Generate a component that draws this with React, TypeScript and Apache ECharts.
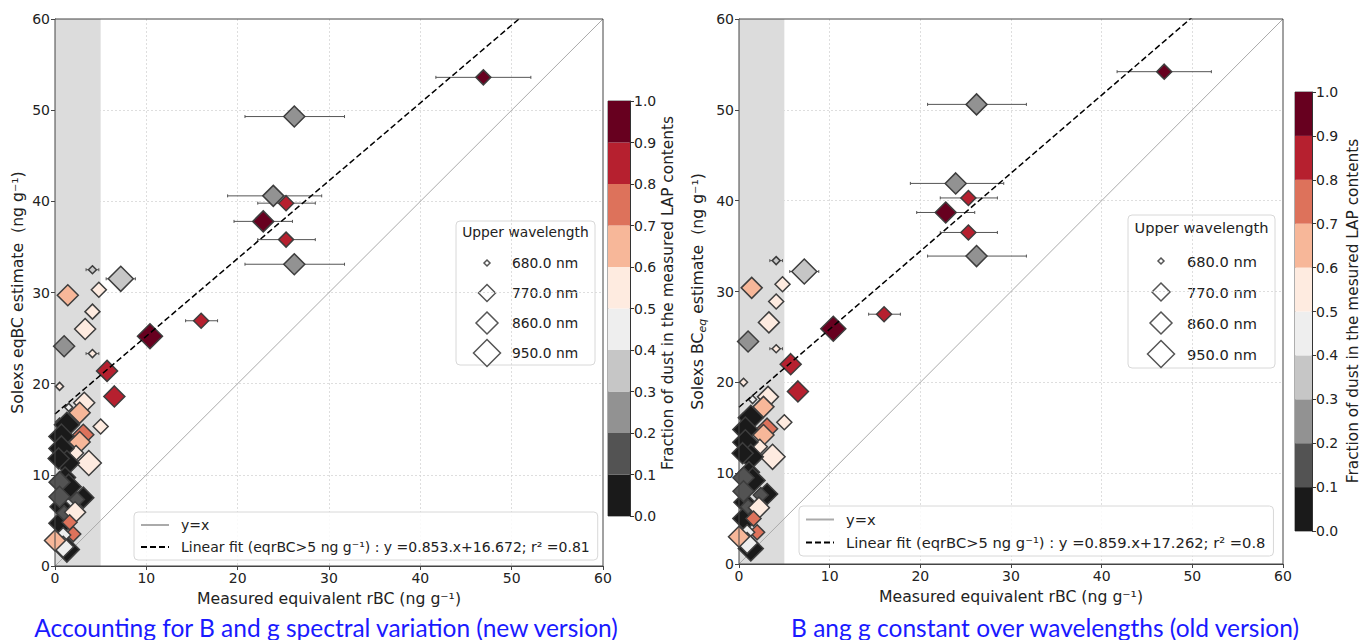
import React, { useEffect, useRef } from "react";
import * as echarts from "echarts";

// ---------------- DATA ----------------
const measuredX = [26.2, 23.9, 25.3, 22.8, 25.3, 26.2, 46.9, 4.1, 7.2, 4.8, 1.4, 4.1, 3.3, 1.0, 4.1, 16.0, 10.4, 5.7, 6.5, 0.5, 3.2, 2.7, 1.5, 5.0, 3.1, 2.7, 2.3, 3.7, 0.5,
  1.3, 0.7, 0.7, 1.3, 1.1, 1.5, 3.1, 0.6, 0.7, 1.3, 0.4,
  0.5, 0.5, 2.4, 1.0,
  2.2, 1.6, 2.0, 0.9, 0.9, 0.0];
const errLow: (number | null)[] = [20.8, 18.9, 22.2, 19.6, 22.2, 20.8, 41.7, 3.4, 5.6, null, null, null, null, null, 3.4, 14.3, null, null, null, null, null, null, null, null, null, null, null, null, null,
  null, null, null, null, null, null, null, null, null, null, null,
  null, null, null, null,
  null, null, null, null, null, null];
const errHigh: (number | null)[] = [31.7, 29.2, 28.5, 26.0, 28.5, 31.7, 52.1, 4.8, 8.8, null, null, null, null, null, 4.8, 17.8, null, null, null, null, null, null, null, null, null, null, null, null, null,
  null, null, null, null, null, null, null, null, null, null, null,
  null, null, null, null,
  null, null, null, null, null, null];
const dustFraction = [0.25, 0.25, 0.85, 0.95, 0.85, 0.25, 0.95, 0.35, 0.35, 0.55, 0.65, 0.55, 0.55, 0.25, 0.55, 0.85, 0.95, 0.85, 0.85, 0.55, 0.55, 0.65, 0.45, 0.55, 0.75, 0.65, 0.55, 0.55, 0.35,
  0.05, 0.05, 0.05, 0.05, 0.05, 0.05, 0.05, 0.05, 0.05, 0.05, 0.05,
  0.15, 0.15, 0.15, 0.15,
  0.55, 0.75, 0.75, 0.45, 0.45, 0.65];
const upperWavelength = [860, 860, 770, 860, 770, 860, 770, 680, 950, 770, 860, 770, 860, 860, 680, 770, 950, 860, 860, 680, 860, 860, 680, 770, 860, 860, 770, 950, 680,
  950, 950, 950, 950, 860, 950, 860, 860, 950, 950, 860,
  860, 860, 770, 770,
  860, 770, 770, 770, 860, 860];
const estimateNew = [49.3, 40.6, 39.8, 37.8, 35.8, 33.1, 53.6, 32.5, 31.5, 30.3, 29.7, 27.9, 26.0, 24.1, 23.3, 26.9, 25.2, 21.4, 18.6, 19.7, 17.9, 16.8, 17.4, 15.3, 14.4, 13.6, 12.4, 11.3, 15.8,
  15.5, 14.2, 12.9, 11.3, 9.7, 8.7, 7.5, 6.5, 4.7, 1.8, 11.8,
  9.2, 7.6, 7.3, 5.8,
  5.9, 4.8, 3.5, 3.4, 2.1, 2.8];
const estimateOld = [50.6, 41.9, 40.3, 38.7, 36.5, 33.9, 54.2, 33.4, 32.2, 30.8, 30.4, 28.9, 26.6, 24.5, 23.7, 27.5, 25.9, 22.0, 19.0, 20.0, 18.4, 17.3, 18.1, 15.6, 14.9, 14.2, 12.9, 11.8, 16.2,
  16.1, 14.8, 13.4, 11.8, 10.1, 9.2, 7.7, 6.8, 5.0, 1.7, 12.2,
  9.5, 8.0, 7.6, 6.3,
  6.2, 5.0, 3.5, 3.5, 2.3, 3.0];

const fitCoefNew = [0.853, 16.672];
const fitCoefOld = [0.859, 17.262];
const fitNameNew = "Linear fit (eqrBC>5 ng g⁻¹) : y =0.853.x+16.672; r² =0.81";
const fitNameOld = "Linear fit (eqrBC>5 ng g⁻¹) : y =0.859.x+17.262; r² =0.8";
const axisRange = [0, 60];
const axisStep = 10;
const shadeRange = [0, 5];
const binEdges = [0, 0.1, 0.2, 0.3, 0.4, 0.5, 0.6, 0.7, 0.8, 0.9, 1.0];
const binColors = ["#1a1a1a", "#535353", "#929292", "#c6c6c6", "#eeeeee", "#feebe0", "#f7b799", "#dd725b", "#b6202f", "#67001f"];
const wavelengthLevels = [680, 770, 860, 950];
const wavelengthLabels = ["680.0 nm", "770.0 nm", "860.0 nm", "950.0 nm"];

// ---------------- STYLE ----------------
const FONT = "DejaVu Sans";
const TXT = "#222";
const plotSize: Record<number, number> = { 680: 8, 770: 15, 860: 21, 950: 25 };

const panels = [
  {
    grid: { left: 55, top: 19, width: 548, height: 547 },
    cbar: { left: 608, top: 101, width: 22, height: 415 },
    cbarLabel: { x: 668, y: 293, text: "Fraction of dust in the measured LAP contents" },
    yName: "Solexs eqBC estimate  (ng g⁻¹)",
    yNameGap: 30,
    est: estimateNew, fit: fitCoefNew, fitName: fitNameNew,
    legend: { left: 134, top: 512 },
    wl: { x: 456, y: 221, w: 139, h: 144, titleY: 232, rows: [263, 293, 323, 353], cx: 487, tx: 512, fs: 13.8, sizes: [6, 17, 22, 27] },
    caption: { x: 326, y: 627, text: "Accounting for B and g spectral variation (new version)" },
    fs: 14.0,
  },
  {
    grid: { left: 739, top: 19, width: 544, height: 545 },
    cbar: { left: 1295, top: 92, width: 17, height: 439 },
    cbarLabel: { x: 1353, y: 311, text: "Fraction of dust in the mesured LAP contents" },
    yName: "{a|Solexs BC}{b|eq}{a| estimate  (ng g⁻¹)}",
    yNameGap: 31,
    est: estimateOld, fit: fitCoefOld, fitName: fitNameOld,
    legend: { left: 799, top: 506 },
    wl: { x: 1128, y: 215, w: 147, h: 153, titleY: 227, rows: [261, 292, 323, 354], cx: 1161, tx: 1187, fs: 14.6, sizes: [6, 18, 22, 27] },
    caption: { x: 1045, y: 627, text: "B ang g constant over wavelengths (old version)" },
    fs: 14.7,
  },
];

function buildOption() {
  const grids: any[] = [];
  const xAxes: any[] = [];
  const yAxes: any[] = [];
  const series: any[] = [];
  const legends: any[] = [];
  const graphics: any[] = [];
  const scatterIdx: number[] = [];

  panels.forEach((p, pi) => {
    const g = grids.length;
    const xi = xAxes.length;
    const yi = yAxes.length;
    grids.push({ ...p.grid, show: true, borderColor: "#444", borderWidth: 1, z: 10 });
    const gridLine = { show: true, showMinLine: false, showMaxLine: false, lineStyle: { color: "#d6d6d6", type: [2, 2], width: 0.8 } };
    xAxes.push({
      gridIndex: g, type: "value", min: axisRange[0], max: axisRange[1], interval: axisStep,
      name: "Measured equivalent rBC (ng g⁻¹)", nameLocation: "middle", nameGap: 24,
      nameTextStyle: { fontSize: 15.7, color: TXT, fontFamily: FONT },
      axisLine: { show: true, lineStyle: { color: "#444" } },
      axisTick: { show: true, length: 4, lineStyle: { color: "#444" } },
      axisLabel: { fontSize: 14, color: TXT, margin: 5, fontFamily: FONT },
      splitLine: gridLine,
    });
    yAxes.push({
      gridIndex: g, type: "value", min: axisRange[0], max: axisRange[1], interval: axisStep,
      name: p.yName, nameLocation: "middle", nameGap: p.yNameGap,
      nameTextStyle: {
        fontSize: 15.7, color: TXT, fontFamily: FONT,
        rich: {
          a: { fontSize: 15.7, color: TXT, fontFamily: FONT, lineHeight: 22 },
          b: { fontSize: 11, color: TXT, fontFamily: FONT, fontStyle: "italic", lineHeight: 10, verticalAlign: "bottom" },
        },
      },
      axisLine: { show: true, lineStyle: { color: "#444" } },
      axisTick: { show: true, length: 4, lineStyle: { color: "#444" } },
      axisLabel: { fontSize: 14, color: TXT, margin: 5, fontFamily: FONT },
      splitLine: gridLine,
    });

    // shaded region
    series.push({
      type: "line", name: "_shade" + pi, xAxisIndex: xi, yAxisIndex: yi, data: [], silent: true,
      markArea: { silent: true, itemStyle: { color: "#dcdcdc" }, data: [[{ xAxis: shadeRange[0] }, { xAxis: shadeRange[1] }]] },
      z: 1,
    });
    // y = x
    series.push({
      type: "line", name: "y=x", xAxisIndex: xi, yAxisIndex: yi,
      data: [[axisRange[0], axisRange[0]], [axisRange[1], axisRange[1]]],
      symbol: "none", silent: true, lineStyle: { color: "#aaaaaa", width: 1 }, z: 2,
    });
    // error bars
    const errData: any[] = [];
    measuredX.forEach((x, i) => {
      if (errLow[i] != null && errHigh[i] != null) errData.push([p.est[i], errLow[i], errHigh[i]]);
    });
    series.push({
      type: "custom", name: "_err" + pi, xAxisIndex: xi, yAxisIndex: yi, data: errData, silent: true,
      encode: { x: [1, 2], y: 0 }, z: 3,
      renderItem: (params: any, api: any) => {
        const y = api.value(0), lo = api.value(1), hi = api.value(2);
        const a = api.coord([lo, y]);
        const b = api.coord([hi, y]);
        const st = { stroke: "#555", lineWidth: 1 };
        return {
          type: "group",
          children: [
            { type: "line", shape: { x1: a[0], y1: a[1], x2: b[0], y2: b[1] }, style: st },
            { type: "line", shape: { x1: a[0], y1: a[1] - 1.5, x2: a[0], y2: a[1] + 1.5 }, style: st },
            { type: "line", shape: { x1: b[0], y1: b[1] - 1.5, x2: b[0], y2: b[1] + 1.5 }, style: st },
          ],
        };
      },
    });
    // points
    scatterIdx.push(series.length);
    series.push({
      type: "scatter", name: "_pts" + pi, xAxisIndex: xi, yAxisIndex: yi, clip: true,
      data: measuredX.map((x, i) => [x, p.est[i], dustFraction[i], upperWavelength[i]]),
      symbol: "diamond", symbolSize: (v: number[]) => plotSize[v[3]],
      itemStyle: { borderColor: "#3d3d3d", borderWidth: 1.5, opacity: 1 }, silent: true, z: 4,
    });
    // linear fit
    series.push({
      type: "line", name: p.fitName, xAxisIndex: xi, yAxisIndex: yi,
      data: [[axisRange[0], p.fit[0] * axisRange[0] + p.fit[1]], [axisRange[1], p.fit[0] * axisRange[1] + p.fit[1]]],
      symbol: "none", silent: true, lineStyle: { color: "#000", width: 1.5, type: [6, 3] }, z: 5,
    });

    legends.push({
      left: p.legend.left, top: p.legend.top, orient: "vertical", selectedMode: false,
      itemWidth: 28, itemHeight: 10, itemGap: 8, padding: [6, 8, 6, 6],
      backgroundColor: "rgba(255,255,255,0.85)", borderColor: "#d8d8d8", borderWidth: 1, borderRadius: 4,
      itemStyle: { opacity: 0 },
      textStyle: { fontFamily: FONT, fontSize: p.fs, color: TXT, padding: [0, 0, 0, 7] },
      data: ["y=x", p.fitName],
    });

    // colorbar
    const cg = grids.length;
    grids.push({ ...p.cbar, show: true, borderColor: "#333", borderWidth: 0.8 });
    const cxi = xAxes.length;
    xAxes.push({ gridIndex: cg, type: "category", data: [""], show: false });
    const cyi = yAxes.length;
    yAxes.push({
      gridIndex: cg, type: "value", min: binEdges[0], max: binEdges[binEdges.length - 1], interval: 0.1, position: "right",
      axisLine: { show: true, lineStyle: { color: "#333" } },
      axisTick: { show: true, length: 4, lineStyle: { color: "#333" } },
      axisLabel: { fontSize: 14, color: TXT, fontFamily: FONT, margin: 4, formatter: (v: number) => v.toFixed(1) },
      splitLine: { show: false },
    });
    binColors.forEach((c, bi) => {
      series.push({
        type: "bar", name: "_cb" + pi + "_" + bi, xAxisIndex: cxi, yAxisIndex: cyi,
        stack: "cb" + pi, data: [binEdges[bi + 1] - binEdges[bi]], barWidth: "100%", silent: true,
        itemStyle: { color: c },
      });
    });
    graphics.push({
      type: "text", x: p.cbarLabel.x, y: p.cbarLabel.y, rotation: Math.PI / 2,
      style: { text: p.cbarLabel.text, fontFamily: FONT, fontSize: 15.3, fill: TXT, align: "center", verticalAlign: "middle" },
    });

    // wavelength legend
    const w = p.wl;
    const children: any[] = [
      { type: "rect", shape: { x: w.x, y: w.y, width: w.w, height: w.h, r: 4 }, style: { fill: "rgba(255,255,255,0.85)", stroke: "#d8d8d8", lineWidth: 1 } },
      { type: "text", x: w.x + w.w / 2, y: w.titleY, style: { text: "Upper wavelength", fontFamily: FONT, fontSize: w.fs, fill: TXT, align: "center", verticalAlign: "middle" } },
    ];
    wavelengthLevels.forEach((lv, k) => {
      const s = w.sizes[k] / 2;
      const cy = w.rows[k];
      children.push({
        type: "polygon",
        shape: { points: [[w.cx, cy - s], [w.cx + s, cy], [w.cx, cy + s], [w.cx - s, cy]] },
        style: { fill: "#ffffff", stroke: "#555", lineWidth: 1.5 },
      });
      children.push({ type: "text", x: w.tx, y: cy, style: { text: wavelengthLabels[k], fontFamily: FONT, fontSize: w.fs, fill: TXT, align: "left", verticalAlign: "middle" } });
    });
    graphics.push({ type: "group", children });

    graphics.push({
      type: "text", x: p.caption.x, y: p.caption.y,
      style: { text: p.caption.text, fontFamily: "Lato", fontSize: 24.5, fill: "#1a1aff", align: "center", verticalAlign: "middle" },
    });
  });

  const pieces: any[] = binColors.map((c, i) => ({ gte: binEdges[i], lt: binEdges[i + 1], color: c }));
  pieces[pieces.length - 1] = { gte: binEdges[binEdges.length - 2], lte: binEdges[binEdges.length - 1], color: binColors[binColors.length - 1] };

  return {
    animation: false,
    backgroundColor: "#ffffff",
    textStyle: { fontFamily: FONT },
    grid: grids,
    xAxis: xAxes,
    yAxis: yAxes,
    legend: legends,
    visualMap: [{ type: "piecewise", show: false, dimension: 2, seriesIndex: scatterIdx, pieces }],
    graphic: graphics,
    series,
  };
}

export default function App() {
  const ref = useRef<HTMLDivElement>(null);
  useEffect(() => {
    document.body.style.margin = "0";
    if (!ref.current) return;
    const chart = echarts.init(ref.current, null, { renderer: "svg" });
    chart.setOption(buildOption() as any);
    return () => chart.dispose();
  }, []);
  return <div ref={ref} style={{ width: 1369, height: 640 }} />;
}
